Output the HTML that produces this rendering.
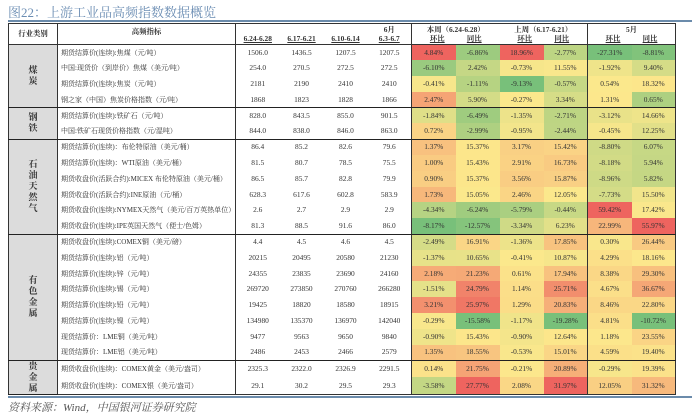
<!DOCTYPE html>
<html><head><meta charset="utf-8">
<style>
body{margin:0;width:700px;height:415px;background:#fff;position:relative;overflow:hidden;font-family:"Liberation Serif","Noto Serif CJK SC",serif;color:#333}
#title{position:absolute;left:8px;top:2px;font-size:13px;color:#6b8db3;font-family:"Liberation Serif","Noto Serif CJK SC",serif}
#src{position:absolute;left:8px;top:399px;font-size:11px;color:#555;font-style:italic}
.hl{position:absolute;left:8px;width:684px;height:1px;background:#6b8bab}
table{position:absolute;left:8px;top:23px;width:668px;border-collapse:collapse;table-layout:fixed;font-size:7.4px}
tbody tr{height:15.8px}
td{height:15.8px;padding:0;text-align:center;white-space:nowrap;overflow:hidden;line-height:10px;box-sizing:border-box}
td.ind{text-align:left;padding-left:3px;font-size:7px}
td.cat{background:#dcdcdc;font-weight:bold;font-size:9px;line-height:11px;white-space:normal;border-right:1px solid #333}
th{font-size:7.4px;font-weight:bold;padding:0 0 1px 0;height:20px;line-height:9px;vertical-align:bottom;box-sizing:border-box}
tr.sep td{border-bottom:1px solid #222}
</style></head><body>
<div id="title">图22：上游工业品高频指数数据概览</div>
<div class="hl" style="top:20px;height:2px"></div>
<table id="tbl" style="border:1px solid #333">
<colgroup><col style="width:49px"><col style="width:178px"><col style="width:44px"><col style="width:44px"><col style="width:44px"><col style="width:44px"><col style="width:44px"><col style="width:44px"><col style="width:44px"><col style="width:44px"><col style="width:44px"><col style="width:44px"></colgroup>
<thead>
<tr style="border-bottom:1px solid #333;height:21px">
<th style="border-right:1px solid #333;vertical-align:middle">行业类别</th>
<th style="border-right:1px solid #333;vertical-align:top;padding-top:3px">高频指标</th>
<th><u>6.24-6.28</u></th>
<th><u>6.17-6.21</u></th>
<th><u>6.10-6.14</u></th>
<th style="border-right:1px solid #333">6月<br><u>6.3-6.7</u></th>
<th colspan="2">本周（6.24-6.28）<br><u>环比</u>&emsp;&emsp;&emsp;<u>同比</u></th>
<th colspan="2" style="border-right:1px solid #333">上周（6.17-6.21）<br><u>环比</u>&emsp;&emsp;&emsp;<u>同比</u></th>
<th colspan="2">5月<br><u>环比</u>&emsp;&emsp;&emsp;<u>同比</u></th>
</tr></thead>
<tbody id="tb"></tbody></table>
<div class="hl" style="top:396px;height:2px"></div>
<div id="src">资料来源：Wind，中国银河证券研究院</div>
<script>
const categories=[["煤炭",4],["钢铁",2],["石油天然气",6],["有色金属",8],["贵金属",2]];
const indicators=["期货结算价(连续):焦煤（元/吨）","中国:现货价（到岸价）焦煤（美元/吨）","期货结算价(连续):焦炭（元/吨）","钢之家（中国）焦炭价格指数（元/吨）","期货结算价(连续):铁矿石（元/吨）","中国:铁矿石现货价格指数（元/湿吨）","期货结算价(连续)：布伦特原油（美元/桶）","期货结算价(连续)：WTI原油（美元/桶）","期货收盘价(活跃合约):MICEX 布伦特原油（美元/桶）","期货收盘价(活跃合约):INE原油（元/桶）","期货收盘价(连续):NYMEX天然气（美元/百万英热单位）","期货收盘价(连续):IPE英国天然气（便士/色姆）","期货收盘价(连续):COMEX铜（美元/磅）","期货结算价(连续):铝（元/吨）","期货结算价(连续):锌（元/吨）","期货结算价(连续):锡（元/吨）","期货结算价(连续):铅（元/吨）","期货结算价(连续):镍（元/吨）","现货结算价：LME铜（美元/吨）","现货结算价：LME铝（美元/吨）","期货收盘价(连续)：COMEX黄金（美元/盎司）","期货收盘价(连续)：COMEX银（美元/盎司）"];
const w1=["1506.0","254.0","2181","1868","828.0","844.0","86.4","81.5","86.5","628.3","2.6","81.3","4.4","20215","24355","269720","19425","134980","9477","2486","2325.3","29.1"];
const w2=["1436.5","270.5","2190","1823","843.5","838.0","85.2","80.7","85.7","617.6","2.7","88.5","4.5","20495","23835","273850","18820","135370","9563","2453","2322.0","30.2"];
const w3=["1207.5","272.5","2410","1828","855.0","846.0","82.6","78.5","82.8","602.8","2.9","91.6","4.6","20580","23690","270760","18580","136970","9650","2466","2326.9","29.5"];
const w4=["1207.5","272.5","2410","1866","901.5","863.0","79.6","75.5","79.9","583.9","2.9","86.0","4.5","21230","24160","266280","18915","142040","9840","2579","2291.5","29.3"];
const twHb=[4.84,-6.10,-0.41,2.47,-1.84,0.72,1.37,1.00,0.90,1.73,-4.34,-8.17,-2.49,-1.37,2.18,-1.51,3.21,-0.29,-0.90,1.35,0.14,-3.58];
const twTb=[-6.86,2.42,-1.11,5.90,-6.49,-2.99,15.37,15.43,15.37,15.05,-6.24,-12.57,16.91,10.65,21.23,24.79,25.97,-15.58,15.43,18.55,21.75,27.77];
const lwHb=[18.96,-0.73,-9.13,-0.27,-1.35,-0.95,3.17,2.91,3.56,2.46,-5.79,-3.34,-1.36,-0.41,0.61,1.14,1.29,-1.17,-0.90,-0.53,-0.21,2.08];
const lwTb=[-2.77,11.55,-0.57,3.34,-2.71,-2.44,15.42,16.73,15.87,12.05,-0.44,6.23,17.85,10.87,17.94,25.71,20.83,-19.28,12.64,15.01,20.89,31.97];
const mHb=[-27.31,-1.92,0.54,1.31,-3.12,-0.45,-8.80,-8.18,-8.96,-7.73,59.42,22.99,0.30,4.29,8.38,4.67,8.46,4.81,1.18,4.59,-0.29,12.05];
const mTb=[-8.81,9.40,18.32,0.65,14.66,12.25,6.07,5.94,5.82,15.50,17.42,55.97,26.44,18.16,29.30,36.67,22.80,-10.72,23.55,19.40,19.39,31.32];
const pctCols=[twHb,twTb,lwHb,lwTb,mHb,mTb];
const G=[120,192,122],Y=[252,232,140],R=[238,100,95];
function mix(a,b,t){return 'rgb('+a.map((v,i)=>Math.round(v+(b[i]-v)*t)).join(',')+')';}
function colorScale(arr,v){const s=[...arr].sort((a,b)=>a-b);const mn=s[0],mx=s[s.length-1];const n=s.length;const md=n%2?s[(n-1)/2]:(s[n/2-1]+s[n/2])/2;
 if(v<=md)return mix(G,Y,md===mn?1:(v-mn)/(md-mn));return mix(Y,R,(v-md)/(mx-md));}
const seps=new Set([3,5,11,19]);
const tb=document.getElementById('tb');
let ci=0,left=0;
for(let r=0;r<indicators.length;r++){
 const tr=document.createElement('tr');
 
 
 if(seps.has(r))tr.className='sep';
 if(left===0){const [nm,n]=categories[ci++];left=n;const td=document.createElement('td');td.className='cat';td.rowSpan=n;td.style.borderBottom='1px solid #222';td.innerHTML=nm.split('').join('<br>');
  
  
  tr.appendChild(td);}
 left--;
 const ind=document.createElement('td');ind.className='ind';ind.textContent=indicators[r];ind.style.borderRight='1px solid #333';
 
 
 tr.appendChild(ind);
 [w1,w2,w3,w4].forEach((a,k)=>{const td=document.createElement('td');td.textContent=a[r];if(k===3)td.style.borderRight='1px solid #333';
  
  
  tr.appendChild(td);});
 pctCols.forEach((a,k)=>{const td=document.createElement('td');td.textContent=a[r].toFixed(2)+'%';td.style.background=colorScale(a,a[r]);if(k===3)td.style.borderRight='1px solid #333';
  
  
  tr.appendChild(td);});
 tb.appendChild(tr);
}
</script>
</body></html>
